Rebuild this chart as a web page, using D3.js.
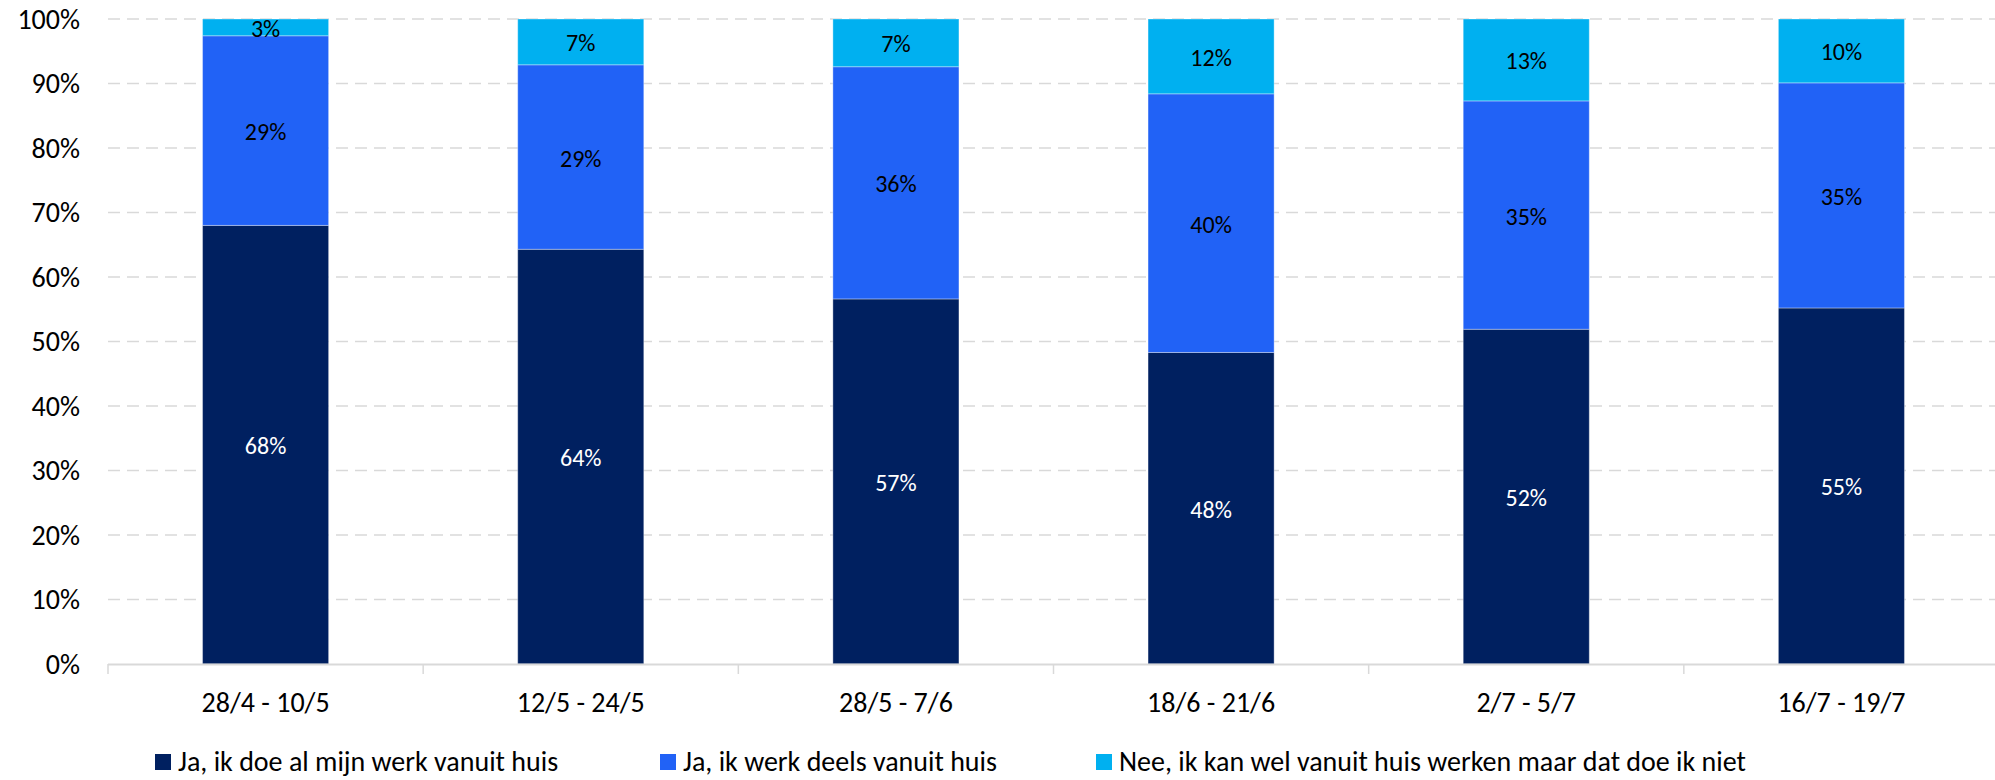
<!DOCTYPE html>
<html>
<head>
<meta charset="utf-8">
<script src="https://cdn.jsdelivr.net/npm/d3@7"></script>
<style>
  html, body { margin: 0; padding: 0; background: #fff; }
  svg { display: block; }
  text { font-family: Carlito, Calibri, Lato, "Open Sans", sans-serif; }
</style>
</head>
<body>
<svg id="chart" width="1995" height="780"></svg>
<script>
const categories = ["28/4 - 10/5", "12/5 - 24/5", "28/5 - 7/6", "18/6 - 21/6", "2/7 - 5/7", "16/7 - 19/7"];
const seriesNames = ["Ja, ik doe al mijn werk vanuit huis", "Ja, ik werk deels vanuit huis", "Nee, ik kan wel vanuit huis werken maar dat doe ik niet"];
const allFromHome = [68.0, 64.3, 56.6, 48.3, 51.9, 55.2];
const partlyFromHome = [29.4, 28.6, 36.0, 40.1, 35.4, 34.9];
const notFromHome = [2.6, 7.1, 7.4, 11.6, 12.7, 9.9];
const yTicks = [0, 10, 20, 30, 40, 50, 60, 70, 80, 90, 100];
const colors = ["#002060", "#2162F6", "#00B0F0"];
const labelColors = ["#ffffff", "#000000", "#000000"];

const svg = d3.select("#chart");
const mLeft = 108, mRight = 1999, mTop = 19, mBottom = 664;

const x = d3.scaleBand().domain(categories).range([mLeft, mRight]).padding(0);
const y = d3.scaleLinear().domain([0, 100]).range([mBottom, mTop]);
const barW = x.bandwidth() * 0.4;

// gridlines
svg.append("g").selectAll("line").data(yTicks.filter(d => d > 0)).join("line")
  .attr("x1", mLeft).attr("x2", 1995)
  .attr("y1", d => y(d)).attr("y2", d => y(d))
  .attr("stroke", "#D9D9D9").attr("stroke-width", 1.3)
  .attr("stroke-dasharray", "12,7");

// y labels
svg.append("g").selectAll("text").data(yTicks).join("text")
  .attr("x", 80).attr("y", d => y(d))
  .attr("text-anchor", "end").attr("dominant-baseline", "central")
  .attr("font-size", 28).attr("fill", "#000")
  .text(d => d + "%");

// stacked data
const rows = categories.map((c, i) => ({cat: c, s0: allFromHome[i], s1: partlyFromHome[i], s2: notFromHome[i]}));
const stack = d3.stack().keys(["s0", "s1", "s2"])(rows);

const g = svg.append("g");
stack.forEach((layer, k) => {
  g.append("g").selectAll("rect").data(layer).join("rect")
    .attr("x", d => x(d.data.cat) + (x.bandwidth() - barW) / 2)
    .attr("width", barW)
    .attr("y", d => y(d[1]))
    .attr("height", d => y(d[0]) - y(d[1]))
    .attr("fill", colors[k])
    .attr("stroke", "rgba(255,255,255,0.35)").attr("stroke-width", 1);
});
stack.forEach((layer, k) => {
  g.append("g").selectAll("text").data(layer).join("text")
    .attr("x", d => x(d.data.cat) + x.bandwidth() / 2)
    .attr("y", d => (y(d[0]) + y(d[1])) / 2 + 1)
    .attr("text-anchor", "middle").attr("dominant-baseline", "central")
    .attr("font-size", 24).attr("fill", labelColors[k])
    .text(d => Math.round(d[1] - d[0]) + "%");
});

// x axis
const xa = svg.append("g");
xa.append("line").attr("x1", mLeft).attr("x2", 1995).attr("y1", mBottom + 0.5).attr("y2", mBottom + 0.5)
  .attr("stroke", "#D9D9D9").attr("stroke-width", 2);
const bounds = categories.map(c => x(c)).concat([mRight]);
xa.selectAll("line.tick").data(bounds).join("line").attr("class", "tick")
  .attr("x1", d => d).attr("x2", d => d).attr("y1", mBottom).attr("y2", mBottom + 10)
  .attr("stroke", "#D9D9D9").attr("stroke-width", 1.5);
xa.selectAll("text").data(categories).join("text")
  .attr("x", d => x(d) + x.bandwidth() / 2).attr("y", 712)
  .attr("text-anchor", "middle").attr("font-size", 28).attr("fill", "#000")
  .text(d => d);

// legend
const legX = [155, 660, 1096];
const leg = svg.append("g");
seriesNames.forEach((n, i) => {
  leg.append("rect").attr("x", legX[i]).attr("y", 754).attr("width", 16).attr("height", 16).attr("fill", colors[i]);
  leg.append("text").attr("x", legX[i] + 23).attr("y", 771).attr("font-size", 28).attr("fill", "#000").text(n);
});
</script>
</body>
</html>
